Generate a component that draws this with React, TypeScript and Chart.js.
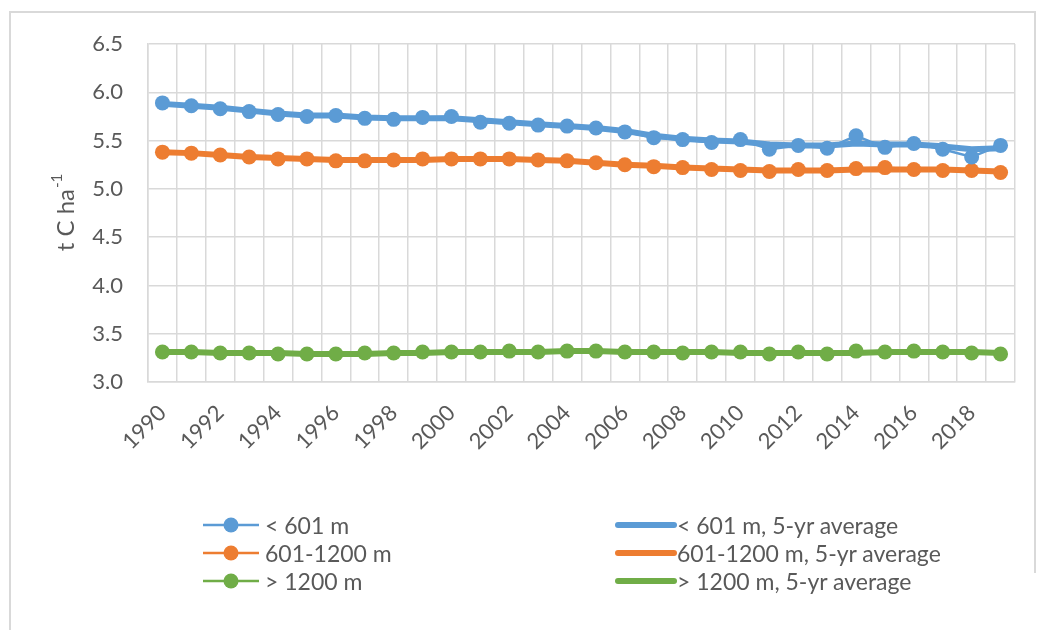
import React, { useEffect, useRef } from "react";
import { Chart, registerables } from "chart.js";

Chart.register(...registerables);

// ---- data ----
const years = [
  "1990", "1991", "1992", "1993", "1994", "1995", "1996", "1997", "1998", "1999",
  "2000", "2001", "2002", "2003", "2004", "2005", "2006", "2007", "2008", "2009",
  "2010", "2011", "2012", "2013", "2014", "2015", "2016", "2017", "2018", "2019",
];

const lowValues = [
  5.89, 5.86, 5.83, 5.80, 5.77, 5.75, 5.76, 5.73, 5.72, 5.74,
  5.75, 5.69, 5.68, 5.66, 5.65, 5.63, 5.59, 5.53, 5.51, 5.48,
  5.51, 5.41, 5.45, 5.42, 5.55, 5.43, 5.47, 5.41, 5.33, 5.45,
];
const lowAvg = [
  5.88, 5.86, 5.84, 5.81, 5.78, 5.76, 5.76, 5.74, 5.73, 5.73,
  5.73, 5.71, 5.69, 5.67, 5.65, 5.63, 5.60, 5.55, 5.52, 5.50,
  5.49, 5.46, 5.45, 5.45, 5.47, 5.46, 5.46, 5.44, 5.41, 5.42,
];

const midValues = [
  5.38, 5.37, 5.35, 5.33, 5.31, 5.31, 5.29, 5.29, 5.30, 5.31,
  5.31, 5.31, 5.31, 5.30, 5.29, 5.27, 5.25, 5.23, 5.22, 5.20,
  5.19, 5.18, 5.20, 5.19, 5.21, 5.22, 5.20, 5.19, 5.19, 5.17,
];
const midAvg = [
  5.38, 5.37, 5.35, 5.33, 5.32, 5.31, 5.30, 5.30, 5.30, 5.30,
  5.31, 5.31, 5.31, 5.30, 5.29, 5.27, 5.25, 5.24, 5.22, 5.21,
  5.20, 5.19, 5.19, 5.19, 5.20, 5.20, 5.20, 5.20, 5.19, 5.18,
];

const highValues = [
  3.31, 3.31, 3.30, 3.30, 3.29, 3.29, 3.29, 3.30, 3.30, 3.31,
  3.31, 3.31, 3.32, 3.31, 3.32, 3.32, 3.31, 3.31, 3.30, 3.31,
  3.31, 3.29, 3.31, 3.29, 3.32, 3.31, 3.32, 3.31, 3.30, 3.29,
];
const highAvg = [
  3.31, 3.31, 3.30, 3.30, 3.30, 3.29, 3.29, 3.29, 3.30, 3.30,
  3.31, 3.31, 3.31, 3.31, 3.32, 3.32, 3.31, 3.31, 3.31, 3.31,
  3.30, 3.30, 3.30, 3.30, 3.30, 3.31, 3.31, 3.31, 3.31, 3.30,
];

const yMin = 3.0;
const yMax = 6.5;
const yStep = 0.5;

const seriesNames = ["< 601 m", "601-1200 m", "> 1200 m"];
const avgNames = ["< 601 m, 5-yr average", "601-1200 m, 5-yr average", "> 1200 m, 5-yr average"];
const yTitleMain = "t C ha";
const yTitleSup = "-1";

// ---- styles ----
const COLORS = ["#5B9BD5", "#ED7D31", "#70AD47"];
const FONT = "Lato, 'Noto Sans', sans-serif";
const TEXT = "#595959";
const GRID = "#d9d9d9";

const yTitlePlugin = {
  id: "yTitle",
  afterDraw(chart: any) {
    const { ctx, chartArea } = chart;
    const cy = (chartArea.top + chartArea.bottom) / 2;
    ctx.save();
    ctx.translate(66, cy);
    ctx.rotate(-Math.PI / 2);
    ctx.fillStyle = TEXT;
    ctx.textBaseline = "middle";
    ctx.font = `24px ${FONT}`;
    const w1 = ctx.measureText(yTitleMain).width;
    ctx.font = `15px ${FONT}`;
    const w2 = ctx.measureText(yTitleSup).width;
    const start = -(w1 + w2) / 2;
    ctx.font = `24px ${FONT}`;
    ctx.textAlign = "left";
    ctx.fillText(yTitleMain, start, 0);
    ctx.font = `15px ${FONT}`;
    ctx.fillText(yTitleSup, start + w1 + 1, -9);
    ctx.restore();
  },
};

function LegendItem(props: { x: number; y: number; color: string; label: string; avg: boolean }) {
  const { x, y, color, label, avg } = props;
  const sw = avg ? 62 : 58;
  return (
    <div style={{ position: "absolute", left: x, top: y - 14, height: 28, display: "flex", alignItems: "center" }}>
      <svg width={sw} height={28} style={{ display: "block" }}>
        {avg ? (
          <line x1={3} y1={14} x2={sw - 3} y2={14} stroke={color} strokeWidth={6} strokeLinecap="round" />
        ) : (
          <>
            <line x1={0} y1={14} x2={sw - 2} y2={14} stroke={color} strokeWidth={2.5} />
            <circle cx={(sw - 2) / 2} cy={14} r={7.5} fill={color} />
          </>
        )}
      </svg>
      <span style={{ font: `23px ${FONT}`, color: TEXT, whiteSpace: "nowrap", marginLeft: avg ? 0 : 4 }}>{label}</span>
    </div>
  );
}

export default function App() {
  const canvasRef = useRef<HTMLCanvasElement | null>(null);

  useEffect(() => {
    const canvas = canvasRef.current;
    if (!canvas) return;
    const valueSets = [lowValues, midValues, highValues];
    const avgSets = [lowAvg, midAvg, highAvg];
    const datasets: any[] = [];
    for (let i = 0; i < 3; i++) {
      datasets.push({
        label: seriesNames[i],
        data: valueSets[i],
        borderColor: COLORS[i],
        backgroundColor: COLORS[i],
        pointBackgroundColor: COLORS[i],
        pointBorderWidth: 0,
        pointRadius: 7.5,
        borderWidth: 2.5,
        tension: 0,
        order: 0,
      });
    }
    for (let i = 0; i < 3; i++) {
      datasets.push({
        label: avgNames[i],
        data: avgSets[i],
        borderColor: COLORS[i],
        backgroundColor: COLORS[i],
        pointRadius: 0,
        borderWidth: 6,
        borderCapStyle: "round",
        borderJoinStyle: "round",
        tension: 0,
        order: 1,
      });
    }

    const chart = new Chart(canvas, {
      type: "line",
      data: { labels: years, datasets },
      options: {
        responsive: false,
        maintainAspectRatio: false,
        animation: false,
        devicePixelRatio: 1,
        layout: { padding: { left: 48, right: 26, top: 44, bottom: 0 } },
        plugins: { legend: { display: false }, tooltip: { enabled: false } },
        scales: {
          x: {
            type: "category",
            offset: true,
            grid: { offset: true, color: GRID, lineWidth: 1.5, drawTicks: false },
            border: { color: GRID, width: 1.5 },
            ticks: {
              autoSkip: false,
              maxRotation: 45,
              minRotation: 45,
              padding: 18,
              color: TEXT,
              font: { family: FONT, size: 22 },
              callback: (_v: any, i: number) => (i % 2 === 0 ? years[i] : ""),
            },
            afterFit: (s: any) => {
              s.height = 248;
            },
          },
          y: {
            min: yMin,
            max: yMax,
            grid: { color: GRID, lineWidth: 1.5, drawTicks: false },
            border: { color: GRID, width: 1.5 },
            ticks: {
              stepSize: yStep,
              padding: 25,
              color: TEXT,
              font: { family: FONT, size: 22 },
              callback: (v: any) => Number(v).toFixed(1),
            },
            afterFit: (s: any) => {
              s.width = 100;
            },
          },
        },
      },
      plugins: [yTitlePlugin],
    } as any);
    return () => chart.destroy();
  }, []);

  return (
    <div style={{ position: "fixed", left: 0, top: 0, width: 1041, height: 630, background: "#fff", overflow: "hidden" }}>
      <div style={{ position: "absolute", left: 9, top: 11, width: 1023, height: 560, borderLeft: `2px solid ${GRID}`, borderTop: `2px solid ${GRID}`, borderRight: `2px solid ${GRID}` }} />
      <div style={{ position: "absolute", left: 9, top: 560, width: 2, height: 70, background: GRID }} />
      <canvas ref={canvasRef} width={1041} height={630} style={{ position: "absolute", left: 0, top: 0, width: 1041, height: 630 }} />
      {[0, 1, 2].map((i) => (
        <LegendItem key={"s" + i} x={203} y={525 + i * 28} color={COLORS[i]} label={seriesNames[i]} avg={false} />
      ))}
      {[0, 1, 2].map((i) => (
        <LegendItem key={"a" + i} x={615} y={525 + i * 28} color={COLORS[i]} label={avgNames[i]} avg={true} />
      ))}
    </div>
  );
}
